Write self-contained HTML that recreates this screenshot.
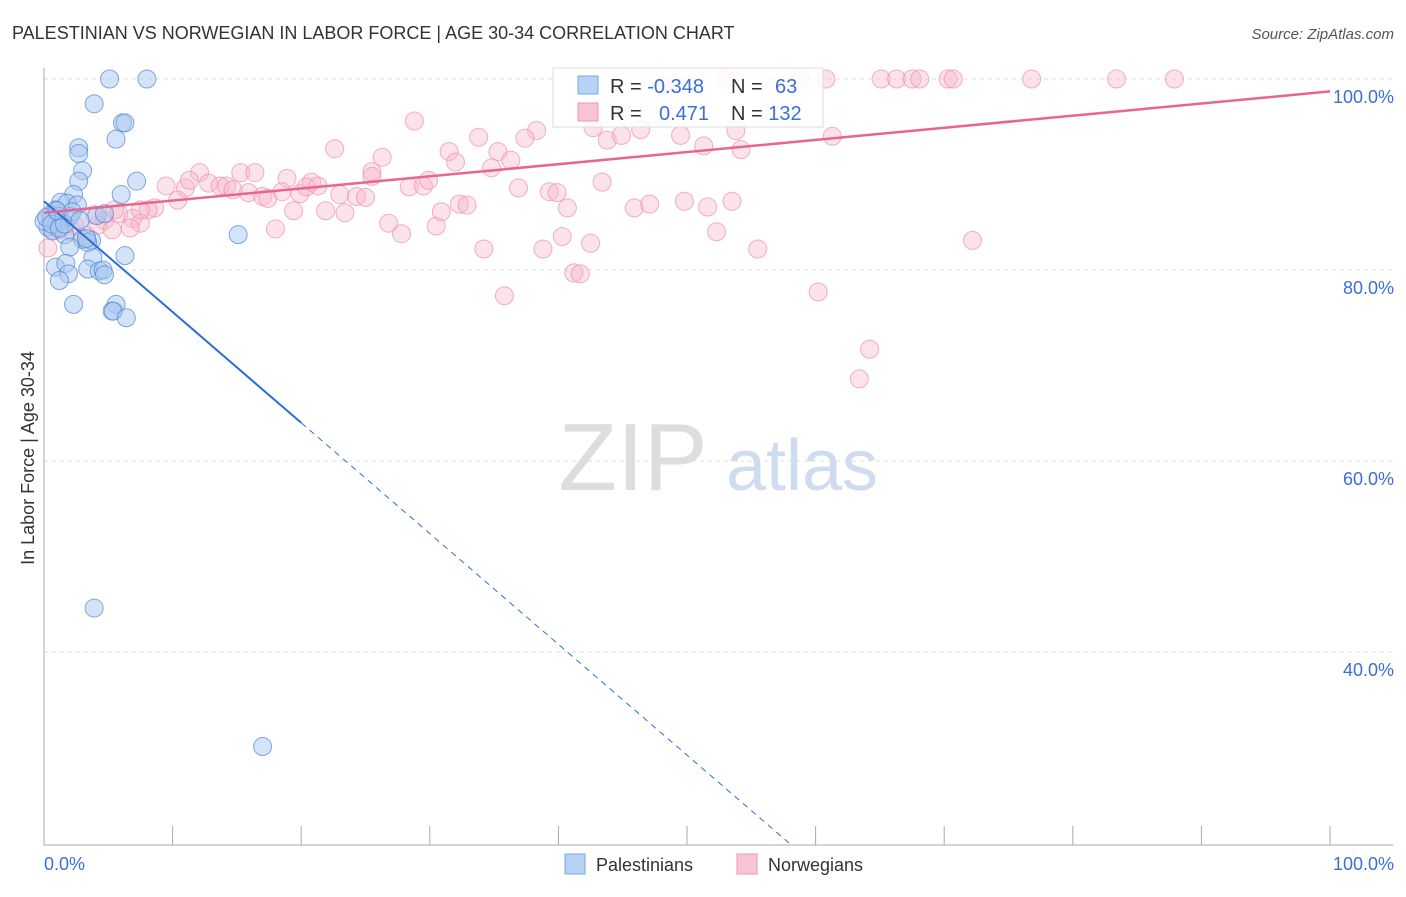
<!DOCTYPE html>
<html><head><meta charset="utf-8"><style>
body{margin:0;background:#fff;font-family:"Liberation Sans",sans-serif}
svg text{font-family:"Liberation Sans",sans-serif}
</style></head><body>
<svg id="chart" width="1406" height="892">
<text x="12" y="39" font-size="18" fill="#333">PALESTINIAN VS NORWEGIAN IN LABOR FORCE | AGE 30-34 CORRELATION CHART</text>
<text x="1394" y="39" font-size="15" fill="#555" font-style="italic" text-anchor="end">Source: ZipAtlas.com</text>
<text x="633" y="490" font-size="96" fill="#ddd" font-family="Liberation Serif" text-anchor="middle">ZIP</text>
<text x="802" y="490" font-size="72" fill="#cfdcf0" text-anchor="middle">atlas</text>
<g id="grid"></g><g id="axes"></g><g id="pts"></g><g id="lines"></g>
<text transform="translate(34,458) rotate(-90)" font-size="18" fill="#333" text-anchor="middle">In Labor Force | Age 30-34</text>
<text x="44" y="870" font-size="18" fill="#3a6fd8">0.0%</text>
<text x="1394" y="870" font-size="18" fill="#3a6fd8" text-anchor="end">100.0%</text>
<g>
<rect x="553" y="68" width="270" height="59" fill="#fff" fill-opacity="0.85" stroke="#ddd"/>
<rect x="578" y="76" width="20" height="18" fill="#b8d2f5" stroke="#7aa7e6"/>
<rect x="578" y="103" width="20" height="18" fill="#f9c4d3" stroke="#ee95ae"/>
<text x="610" y="93" font-size="20" fill="#333">R = <tspan fill="#3a6fd8">-0.348</tspan></text>
<text x="731" y="93" font-size="20" fill="#333">N = <tspan x="775" fill="#3a6fd8">63</tspan></text>
<text x="610" y="120" font-size="20" fill="#333">R = <tspan x="659" fill="#3a6fd8">0.471</tspan></text>
<text x="731" y="120" font-size="20" fill="#333">N = <tspan fill="#3a6fd8">132</tspan></text>
</g>
<g><rect x="565" y="854" width="20" height="20" fill="#b8d2f5" stroke="#7aa7e6"/><text x="596" y="871" font-size="18" fill="#333">Palestinians</text></g>
<g><rect x="737" y="854" width="20" height="20" fill="#f9c4d3" stroke="#ee95ae"/><text x="768" y="871" font-size="18" fill="#333">Norwegians</text></g>
</svg>
<script>
const yTicks=[100,80,60,40];
const xTickCount=10;
const blueX=[5.1,8,3.9,6.1,6.3,5.6,2.7,2.7,3,7.2,2.7,2.3,6,1.3,1.8,2.6,0.9,0.5,1.2,2,4.1,4.7,0.6,1.1,0.3,0.7,1.6,3,3.7,15.1,2,6.3,3.8,0.9,1.7,1.9,3.4,4.3,4.6,4.7,1.2,5.6,5.3,5.4,6.4,2.3,3.9,17,0,0.2,0.6,1.2,3.4,3.3,1.6,2.2,2.8,1];
const blueY=[100,100,97.4,95.4,95.4,93.7,92.8,92.2,90.4,89.3,89.3,87.9,87.9,87.1,87,86.8,86.3,85.8,85.6,85.6,85.7,85.9,85.3,84.9,84.5,84.1,83.7,83.2,83.1,83.7,82.4,81.5,81.3,80.3,80.7,79.6,80.1,79.9,80,79.5,78.9,76.4,75.7,75.7,75,76.4,44.6,30.1,85.1,85.5,84.8,84.4,82.9,83.3,84.8,86.1,85.2,86.2];
const pinkX=[
53.1,60.8,65.1,66.3,67.5,68.1,70.3,70.7,76.8,83.4,
87.9,48.0,58.8,28.8,38.3,33.8,43.8,44.9,49.5,53.8,
46.4,42.7,37.4,22.6,35.3,31.5,26.3,32.0,54.2,51.3,
61.3,36.3,12.1,15.3,16.4,18.9,20.8,25.5,34.8,9.5,
11.0,11.3,12.8,13.7,14.2,14.7,15.9,17.0,17.4,18.5,
19.9,20.4,21.3,23.0,24.3,25.0,25.5,28.4,29.5,29.9,
43.4,36.9,39.3,39.9,10.4,8.6,8.1,5.8,6.9,4.7,
4.2,5.3,7.5,6.7,19.4,21.9,23.4,26.8,27.8,30.5,
30.9,32.3,32.9,40.7,45.9,47.1,49.8,51.6,53.5,18.0,
34.2,38.8,40.3,42.5,52.3,55.5,72.2,35.8,41.2,41.7,
60.2,64.2,63.4,0.6,1.2,2.2,3.3,0.3,3.9,1.3,
2.4,5.5,7.5];
const pinkY=[
100,100,100,100,100,100,100,100,100,100,
100,99.2,100,95.6,94.6,93.9,93.6,94.1,94.1,94.6,
94.7,94.9,93.8,92.7,92.4,92.4,91.8,91.3,92.6,93.0,
94.0,91.5,90.2,90.2,90.2,89.6,89.2,90.3,90.7,88.8,
88.6,89.4,89.1,88.8,88.8,88.4,88.1,87.7,87.5,88.2,
88.0,88.7,88.8,87.9,87.7,87.6,89.8,88.7,88.8,89.4,
89.2,88.6,88.2,88.1,87.3,86.5,86.3,85.9,85.4,85.2,
84.7,84.2,84.9,84.4,86.2,86.2,86.0,84.9,83.8,84.6,
86.1,86.9,86.8,86.5,86.5,86.9,87.2,86.6,87.2,84.3,
82.2,82.2,83.5,82.8,84.0,82.2,83.1,77.3,79.7,79.6,
77.7,71.7,68.6,84.2,84.2,84.0,83.6,82.3,85.8,85.2,
84.7,86.3,86.3];
const blueFit=[87.2,-1.16];
const pinkFit=[86.0,0.127];
const X0=44,X1=1330,Ytop=79,Ybot=845;
const sx=v=>X0+v/100*(X1-X0);
const sy=v=>Ytop+(100-v)/20*191;
const NS='http://www.w3.org/2000/svg';
function mk(t,a,p){const e=document.createElementNS(NS,t);for(const k in a)e.setAttribute(k,a[k]);p.appendChild(e);return e;}
const grid=document.getElementById('grid'),axes=document.getElementById('axes'),pts=document.getElementById('pts'),lines=document.getElementById('lines');
yTicks.forEach(v=>{
 const l=mk('line',{x1:X0,x2:1393,y1:sy(v),y2:sy(v),stroke:'#ddd','stroke-dasharray':'4,4'},grid);
 
 
 const t=mk('text',{x:1394,y:sy(v)+24,'font-size':18,fill:'#3a6fd8','text-anchor':'end'},grid);
 t.textContent=v.toFixed(1)+'%';
 
 
});
const ax=mk('line',{x1:X0,x2:X0,y1:68,y2:Ybot,stroke:'#aaa'},axes);


const bx=mk('line',{x1:X0,x2:1393,y1:Ybot,y2:Ybot,stroke:'#aaa'},axes);


for(let i=0;i<=xTickCount;i++){
 const x=sx(i*100/xTickCount);
 const t=mk('line',{x1:x,x2:x,y1:826,y2:Ybot,stroke:'#aaa'},axes);
 
 
}
pinkX.forEach((v,i)=>{
 const c=mk('circle',{cx:sx(v),cy:sy(pinkY[i]),r:9,fill:'#f7b6c9','fill-opacity':0.4,stroke:'#ee8fab','stroke-opacity':0.7},pts);
 
 
});
blueX.forEach((v,i)=>{
 const c=mk('circle',{cx:sx(v),cy:sy(blueY[i]),r:9,fill:'#a9c8f0','fill-opacity':0.5,stroke:'#4a86d8','stroke-opacity':0.7},pts);
 
 
});
const f=(fit,x)=>fit[0]+fit[1]*x;
const b1=mk('line',{x1:sx(0),y1:sy(f(blueFit,0)),x2:sx(20),y2:sy(f(blueFit,20)),stroke:'#2a6fd6','stroke-width':2},lines);


const xe=(20-blueFit[0])/blueFit[1];
const b2=mk('line',{x1:sx(20),y1:sy(f(blueFit,20)),x2:sx(xe),y2:sy(20),stroke:'#2a6fd6','stroke-width':1,'stroke-dasharray':'6,5'},lines);


const p1=mk('line',{x1:sx(0),y1:sy(f(pinkFit,0)),x2:sx(100),y2:sy(f(pinkFit,100)),stroke:'#e8658f','stroke-width':2.5},lines);


</script>
</body></html>
